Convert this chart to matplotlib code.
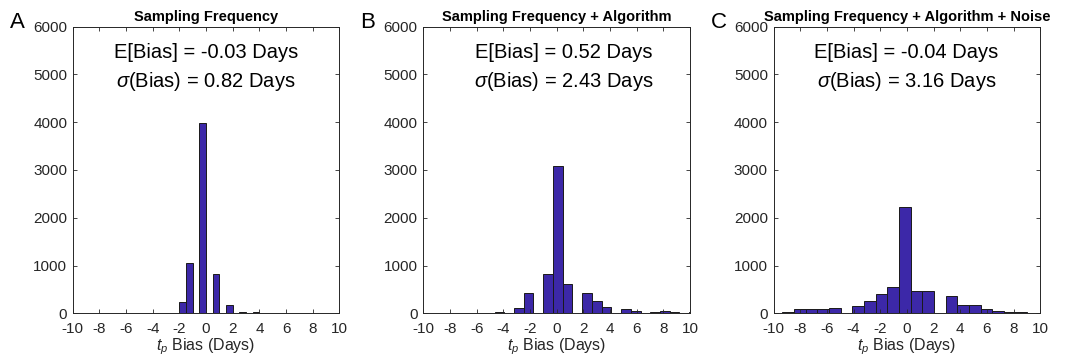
import matplotlib.pyplot as plt
import numpy as np

plt.rcParams['font.family'] = ['Liberation Sans', 'DejaVu Sans']
plt.rcParams['mathtext.fontset'] = 'custom'
plt.rcParams['mathtext.rm'] = 'Liberation Sans'
plt.rcParams['mathtext.it'] = 'Liberation Sans:italic'
plt.rcParams['axes.unicode_minus'] = False

# panel A: Sampling Frequency (bin width 0.5 days)
a_first_edge = -10.0
a_width = 0.5
a_counts = [0, 0, 0, 0, 0, 0, 0, 0, 0, 0, 0, 0, 0, 0, 0, 0,
            240, 1050, 0, 3980, 0, 823, 0, 174, 0, 33, 0, 20, 0, 4, 0, 3, 0, 2, 0, 2,
            0, 1, 0, 1]

# panel B: Sampling Frequency + Algorithm (bin width ~0.73 days)
b_first_edge = -10.5
b_width = 0.73
b_counts = [0, 3, 0, 5, 5, 3, 5, 8, 20, 0,
            110, 420, 0, 820, 3080, 620, 0, 420, 250, 125,
            0, 90, 56, 0, 30, 45, 25, 5, 20]

# panel C: Sampling Frequency + Algorithm + Noise (bin width ~0.875 days)
c_first_edge = -10.225
c_width = 0.875
c_counts = [15, 35, 85, 100, 88, 105, 0, 150, 255, 400,
            545, 2220, 475, 470, 0, 360, 170, 165, 85, 55,
            35, 20, 3]

titles = ['Sampling Frequency',
          'Sampling Frequency + Algorithm',
          'Sampling Frequency + Algorithm + Noise']
letters = ['A', 'B', 'C']
bias_mean = [-0.03, 0.52, -0.04]
bias_std = [0.82, 2.43, 3.16]

panels = [(a_first_edge, a_width, a_counts),
          (b_first_edge, b_width, b_counts),
          (c_first_edge, c_width, c_counts)]

fig = plt.figure(figsize=(10.69, 3.62), dpi=100)
lefts = [72.7, 423.3, 773.5]
W, H = 1069, 362

bar_color = '#3C28A8'
axis_color = '#262626'

for i, (first, width, counts) in enumerate(panels):
    ax = fig.add_axes([lefts[i] / W, (H - 313.3) / H, 266.7 / W, 286.7 / H])
    counts = np.array(counts)
    starts = first + width * np.arange(len(counts))
    ax.bar(starts, counts, width=width, align='edge', color=bar_color,
           edgecolor='#1a1a1a', linewidth=0.7)
    ax.set_xlim(-10, 10)
    ax.set_ylim(0, 6000)
    ax.set_xticks(np.arange(-10, 11, 2))
    ax.set_yticks(np.arange(0, 6001, 1000))
    ax.tick_params(direction='in', top=True, right=True, length=3, width=0.6,
                   colors=axis_color, labelsize=11)
    ax.tick_params(axis='x', pad=6.5)
    ax.tick_params(axis='y', pad=4)
    for s in ax.spines.values():
        s.set_linewidth(0.7)
        s.set_color(axis_color)
    ax.set_xlabel(r'$t_p$ Bias (Days)', fontsize=11.5, color=axis_color, labelpad=0)
    ax.set_title(titles[i], fontsize=10.5, fontweight='bold', pad=4)
    ax.text(bias_mean[i], 5450, f'E[Bias] = {bias_mean[i]:.2f} Days',
            ha='center', va='center', fontsize=14.5)
    ax.text(bias_mean[i], 4850, r'$\sigma$' + f'(Bias) = {bias_std[i]:.2f} Days',
            ha='center', va='center', fontsize=14.5)
    fig.text((lefts[i] - 63) / W, 1 - 23 / H, letters[i], fontsize=16,
             ha='left', va='center')

fig.savefig('out.png', dpi=100)
